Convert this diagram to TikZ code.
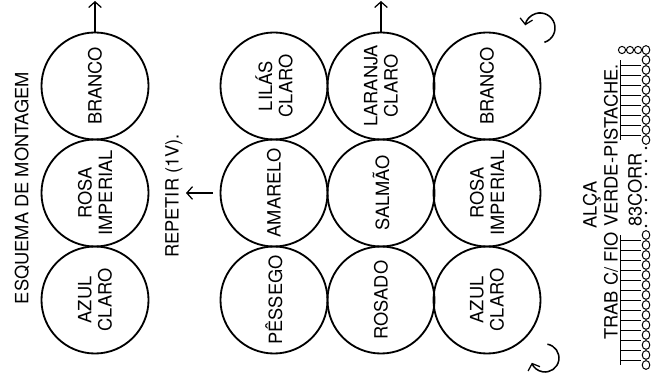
\documentclass[tikz,border=0pt]{standalone}
\usepackage{fontspec}
\setmainfont{TeX Gyre Heros}
\usetikzlibrary{arrows.meta}

\begin{document}
\begin{tikzpicture}[x=0.025cm, y=0.025cm,
  >={Straight Barb[length=4pt,width=9pt,line width=.9pt]},
  ball/.style = {circle, draw, line width=1.3pt, minimum size=2.675cm, inner sep=0pt, rotate=90, align=center, font=\fontsize{13}{14.5}\selectfont},
  vtext/.style = {rotate=90, inner sep=0pt, font=\fontsize{13}{14.5}\selectfont},
  pointer/.style = {->, line width=.9pt},
  stitch/.style = {line width=.7pt}]

\useasboundingbox (0,0) rectangle (663,374);

% first column
\node[ball] (a1) at (95,74) {AZUL\\CLARO};
\node[ball] (a2) at (95,181) {ROSA\\IMPERIAL};
\node[ball] (a3) at (95,288) {BRANCO};

% middle columns
\node[ball] (b1) at (274,74) {PÊSSEGO};
\node[ball] (b2) at (274,181) {AMARELO};
\node[ball] (b3) at (274,288) {LILÁS\\CLARO};

\node[ball] (c1) at (381,74) {ROSADO};
\node[ball] (c2) at (381,181) {SALMÃO};
\node[ball] (c3) at (381,288) {LARANJA\\CLARO};

% last column
\node[ball] (d1) at (487,74) {AZUL\\CLARO};
\node[ball] (d2) at (487,181) {ROSA\\IMPERIAL};
\node[ball] (d3) at (487,288) {BRANCO};

\node[vtext] (title) at (22,186) {ESQUEMA DE MONTAGEM};
\node[vtext] (repeat) at (174,178) {REPETIR (1V).};

\coordinate (repR) at (213,181);
\coordinate (repL) at (186,181);
\draw[pointer] (repR) -- (repL);

\coordinate (upA) at (95,373);
\coordinate (upC) at (381,373);
\draw[pointer] (a3) -- (upA);
\draw[pointer] (c3) -- (upC);

% turning arrows
\coordinate (turnT) at (544.4,331.7);
\coordinate (turnB) at (547.4,29.8);
\draw[pointer, line width=1.1pt] (turnT) arc[start angle=-73, end angle=170, radius=15];
\draw[pointer, line width=1.1pt] (turnB) arc[start angle=80, end angle=-160, radius=14];

% handle chart
\node[vtext] (alca) at (592,169) {ALÇA};
\node[vtext] (trab) at (611,172) {TRAB C/ FIO VERDE-PISTACHE.};
\node[vtext] (corr) at (635,184) {83CORR};

\foreach \y in {14,24,...,134} \draw[stitch] (620,\y-5) -- (620,\y+5) (620,\y) -- (641,\y);
\foreach \y in {239,249,...,309} \draw[stitch] (620,\y-5) -- (620,\y+5) (620,\y) -- (641,\y);
\foreach \y in {9,19,...,139} \draw[stitch] (646,\y) circle[x radius=3.8, y radius=4.4];
\foreach \y in {234,244,...,324} \draw[stitch] (646,\y) circle[x radius=3.8, y radius=4.4];
\foreach \x in {622,630,638} \draw[stitch] (\x,324) circle[x radius=3.6, y radius=3.6];
\foreach \y in {148,161,...,226} \fill (646,\y) circle[radius=1.3];

\end{tikzpicture}
\end{document}
